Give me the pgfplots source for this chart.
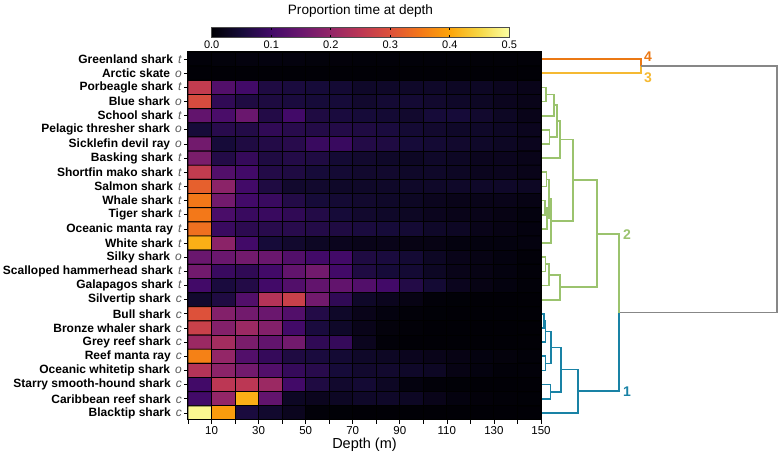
\documentclass[border=0pt]{standalone}
\usepackage{pgfplots}
\pgfplotsset{compat=1.18}
\usepackage{fontspec}
\setmainfont{Liberation Sans}
\definecolor{cfour}{RGB}{235,120,20}
\definecolor{cthree}{RGB}{245,185,50}
\definecolor{ctwo}{RGB}{155,195,110}
\definecolor{cone}{RGB}{25,130,165}
\definecolor{cgrey}{RGB}{135,135,135}
\pgfplotsset{
  /pgf/number format/assume math mode=true,
  colormap={inferno}{rgb255=(0,0,4) rgb255=(22,11,57) rgb255=(66,10,104) rgb255=(106,23,110) rgb255=(147,38,103) rgb255=(188,55,84) rgb255=(221,81,58) rgb255=(243,120,25) rgb255=(252,165,10) rgb255=(246,215,70) rgb255=(252,255,164)},
}
\newcommand{\lab}[2]{\textbf{#1}\hspace{5pt}\textcolor{black!65}{\textit{#2}}}
\begin{document}
\begin{tikzpicture}
\useasboundingbox (0pt,0pt) rectangle (780pt,457pt);
\begin{axis}[
  at={(188pt,405pt)}, anchor=north west,
  scale only axis, width=353pt, height=368pt,
  xmin=0, xmax=150, ymin=0.5, ymax=26.5, y dir=reverse,
  colormap name=inferno,
  point meta min=0, point meta max=0.5,
  axis on top,
  xtick={0,10,...,150},
  xticklabels={,10,,30,,50,,70,,90,,110,,130,,150},
  ytick={1,...,26},
  major tick length=4pt,
  tick align=outside,
  xtick pos=lower, ytick pos=left,
  axis line style={black, line width=1pt},
  tick style={black, line width=0.7pt},
  xticklabel style={font=\fontsize{11.5}{12}\selectfont, yshift=1.5pt},
  yticklabel style={font=\fontsize{12}{12}\selectfont, inner sep=2pt},
  yticklabels={
    \lab{Greenland shark}{t},
    \lab{Arctic skate}{o},
    \lab{Porbeagle shark}{t},
    \lab{Blue shark}{o},
    \lab{School shark}{t},
    \lab{Pelagic thresher shark}{o},
    \lab{Sicklefin devil ray}{o},
    \lab{Basking shark}{t},
    \lab{Shortfin mako shark}{t},
    \lab{Salmon shark}{t},
    \lab{Whale shark}{t},
    \lab{Tiger shark}{t},
    \lab{Oceanic manta ray}{t},
    \lab{White shark}{t},
    \lab{Silky shark}{o},
    \lab{Scalloped hammerhead shark}{t},
    \lab{Galapagos shark}{t},
    \lab{Silvertip shark}{c},
    \lab{Bull shark}{c},
    \lab{Bronze whaler shark}{c},
    \lab{Grey reef shark}{c},
    \lab{Reef manta ray}{c},
    \lab{Oceanic whitetip shark}{o},
    \lab{Starry smooth-hound shark}{c},
    \lab{Caribbean reef shark}{c},
    \lab{Blacktip shark}{c}},
  xlabel={Depth (m)},
  xlabel style={font=\fontsize{14.5}{15}\selectfont, yshift=3pt},
  colorbar horizontal,
  colorbar style={
    at={(parent axis.north)}, anchor=south, xshift=-4pt, yshift=22.7pt,
    scale only axis, width=297.6pt, height=10pt,
    xtick={0,0.1,...,0.5},
    xticklabel style={font=\fontsize{11}{11}\selectfont, yshift=1pt, /pgf/number format/.cd, fixed, fixed zerofill, precision=1},
    major tick length=2.5pt,
    axis line style={black!70, line width=0.8pt},
    title={Proportion time at depth},
    title style={font=\fontsize{13.6}{14}\selectfont, yshift=1pt},
  },
]
\addplot[matrix plot*, mesh/cols=15, point meta=explicit, shader=faceted, faceted color=black, line width=0.9pt]
  table[row sep=\\, header=false, x expr={mod(\coordindex,15)*10+5}, y expr={floor((\coordindex+0.5)/15)+1}, meta index=0] {
0.005\\0.007\\0.009\\0.01\\0.009\\0.007\\0.006\\0.005\\0.005\\0.005\\0.005\\0.005\\0.004\\0.004\\0.004\\
0.002\\0.002\\0.002\\0.002\\0.002\\0.002\\0.002\\0.002\\0.002\\0.002\\0.002\\0.002\\0.002\\0.002\\0.002\\
0.26\\0.12\\0.10\\0.06\\0.055\\0.05\\0.045\\0.035\\0.035\\0.035\\0.035\\0.03\\0.03\\0.025\\0.02\\
0.29\\0.08\\0.06\\0.058\\0.055\\0.05\\0.05\\0.04\\0.045\\0.045\\0.04\\0.035\\0.03\\0.025\\0.02\\
0.14\\0.11\\0.15\\0.065\\0.10\\0.06\\0.055\\0.05\\0.045\\0.04\\0.05\\0.05\\0.04\\0.03\\0.02\\
0.05\\0.07\\0.065\\0.08\\0.07\\0.065\\0.065\\0.06\\0.055\\0.045\\0.04\\0.035\\0.035\\0.03\\0.025\\
0.16\\0.05\\0.06\\0.065\\0.07\\0.09\\0.09\\0.065\\0.06\\0.05\\0.045\\0.04\\0.035\\0.03\\0.025\\
0.17\\0.065\\0.085\\0.06\\0.065\\0.06\\0.045\\0.04\\0.035\\0.03\\0.035\\0.03\\0.025\\0.025\\0.02\\
0.26\\0.12\\0.10\\0.065\\0.06\\0.05\\0.045\\0.04\\0.04\\0.035\\0.035\\0.03\\0.025\\0.025\\0.02\\
0.32\\0.19\\0.10\\0.06\\0.04\\0.04\\0.035\\0.035\\0.035\\0.035\\0.035\\0.035\\0.035\\0.035\\0.03\\
0.35\\0.16\\0.10\\0.09\\0.065\\0.05\\0.045\\0.04\\0.035\\0.03\\0.025\\0.02\\0.02\\0.02\\0.015\\
0.35\\0.11\\0.09\\0.09\\0.08\\0.065\\0.05\\0.04\\0.035\\0.03\\0.025\\0.02\\0.02\\0.015\\0.01\\
0.34\\0.09\\0.075\\0.07\\0.07\\0.065\\0.06\\0.055\\0.05\\0.045\\0.035\\0.03\\0.02\\0.015\\0.01\\
0.41\\0.19\\0.10\\0.05\\0.04\\0.03\\0.025\\0.02\\0.02\\0.015\\0.015\\0.01\\0.01\\0.01\\0.01\\
0.15\\0.15\\0.16\\0.15\\0.12\\0.10\\0.10\\0.06\\0.055\\0.045\\0.03\\0.02\\0.015\\0.01\\0.005\\
0.16\\0.09\\0.08\\0.10\\0.14\\0.16\\0.10\\0.06\\0.05\\0.045\\0.03\\0.02\\0.015\\0.01\\0.005\\
0.10\\0.055\\0.065\\0.10\\0.12\\0.14\\0.14\\0.12\\0.10\\0.065\\0.045\\0.025\\0.015\\0.01\\0.005\\
0.04\\0.06\\0.12\\0.24\\0.27\\0.16\\0.08\\0.035\\0.025\\0.015\\0.005\\0.003\\0.002\\0.002\\0.002\\
0.30\\0.18\\0.16\\0.15\\0.12\\0.065\\0.035\\0.02\\0.01\\0.005\\0.003\\0.002\\0.002\\0.002\\0.002\\
0.27\\0.18\\0.21\\0.18\\0.10\\0.055\\0.035\\0.02\\0.008\\0.004\\0.002\\0.002\\0.002\\0.002\\0.002\\
0.21\\0.22\\0.17\\0.14\\0.16\\0.08\\0.085\\0.025\\0.005\\0.002\\0.002\\0.002\\0.002\\0.002\\0.002\\
0.36\\0.20\\0.12\\0.085\\0.06\\0.055\\0.045\\0.035\\0.03\\0.025\\0.02\\0.015\\0.01\\0.008\\0.005\\
0.24\\0.19\\0.16\\0.12\\0.085\\0.07\\0.05\\0.04\\0.04\\0.035\\0.03\\0.015\\0.01\\0.005\\0.005\\
0.10\\0.25\\0.25\\0.21\\0.10\\0.06\\0.04\\0.045\\0.03\\0.01\\0.005\\0.003\\0.002\\0.002\\0.002\\
0.10\\0.20\\0.41\\0.14\\0.03\\0.025\\0.03\\0.035\\0.035\\0.03\\0.02\\0.01\\0.006\\0.004\\0.003\\
0.49\\0.39\\0.055\\0.04\\0.025\\0.005\\0.003\\0.002\\0.002\\0.002\\0.002\\0.002\\0.002\\0.002\\0.002\\
};
\end{axis}
\begin{axis}[
  at={(541pt,405pt)}, anchor=north west,
  scale only axis, width=239pt, height=368pt,
  xmin=541, xmax=780, ymin=0.5, ymax=26.5, y dir=reverse,
  hide axis, clip=false,
  every axis plot/.append style={line width=1.7pt, line join=miter, no markers},
]
% cluster 4 and 3
\addplot[cfour] coordinates {(542,1) (641,1) (641,1.5)};
\addplot[cthree] coordinates {(542,2) (641,2) (641,1.5)};
% root
\addplot[cgrey] coordinates {(641,1.5) (777,1.5) (777,18.90625) (619,18.90625)};
% cluster 2 (green)
\addplot[ctwo] coordinates {(542,3) (546,3) (546,4) (542,4)};
\addplot[ctwo] coordinates {(546,3.5) (554,3.5) (554,5) (542,5)};
\addplot[ctwo] coordinates {(542,6) (549.5,6) (549.5,7) (542,7)};
\addplot[ctwo] coordinates {(554,4.25) (557,4.25) (557,6.5) (549.5,6.5)};
\addplot[ctwo] coordinates {(557,5.375) (560,5.375) (560,8) (542,8)};
\addplot[ctwo] coordinates {(542,9) (546.5,9) (546.5,10) (542,10)};
\addplot[ctwo] coordinates {(542,11) (545,11) (545,12) (542,12)};
\addplot[ctwo] coordinates {(545,11.5) (547,11.5) (547,13) (542,13)};
\addplot[ctwo] coordinates {(546.5,9.5) (549,9.5) (549,12.25) (547,12.25)};
\addplot[ctwo] coordinates {(549,10.875) (551,10.875) (551,14) (542,14)};
\addplot[ctwo] coordinates {(560,6.6875) (573,6.6875) (573,12.4375) (551,12.4375)};
\addplot[ctwo] coordinates {(542,15) (545.5,15) (545.5,16) (542,16)};
\addplot[ctwo] coordinates {(545.5,15.5) (549,15.5) (549,17) (542,17)};
\addplot[ctwo] coordinates {(549,16.25) (560,16.25) (560,18) (542,18)};
\addplot[ctwo] coordinates {(573,9.5625) (597,9.5625) (597,17.125) (560,17.125)};
\addplot[ctwo] coordinates {(597,13.34375) (619,13.34375) (619,18.90625)};
% cluster 1 (blue)
\addplot[cone] coordinates {(542,19) (544,19) (544,20) (542,20)};
\addplot[cone] coordinates {(544,19.5) (545.5,19.5) (545.5,21) (542,21)};
\addplot[cone] coordinates {(542,22) (545.5,22) (545.5,23) (542,23)};
\addplot[cone] coordinates {(545.5,20.25) (551.3,20.25) (551.3,22.5) (545.5,22.5)};
\addplot[cone] coordinates {(542,24) (550.5,24) (550.5,25) (542,25)};
\addplot[cone] coordinates {(551.3,21.375) (561,21.375) (561,24.5) (550.5,24.5)};
\addplot[cone] coordinates {(561,22.9375) (578,22.9375) (578,26) (542,26)};
\addplot[cone] coordinates {(578,24.46875) (619,24.46875) (619,18.90625)};
\node[cfour, font=\bfseries\fontsize{14}{14}\selectfont, anchor=west, inner sep=1pt] at (axis cs:643,0.8) {4};
\node[cthree, font=\bfseries\fontsize{14}{14}\selectfont, anchor=west, inner sep=1pt] at (axis cs:643,2.35) {3};
\node[ctwo, font=\bfseries\fontsize{14}{14}\selectfont, anchor=west, inner sep=1pt] at (axis cs:622,13.38) {2};
\node[cone, font=\bfseries\fontsize{14}{14}\selectfont, anchor=west, inner sep=1pt] at (axis cs:622,24.5) {1};
\end{axis}
\end{tikzpicture}
\end{document}
